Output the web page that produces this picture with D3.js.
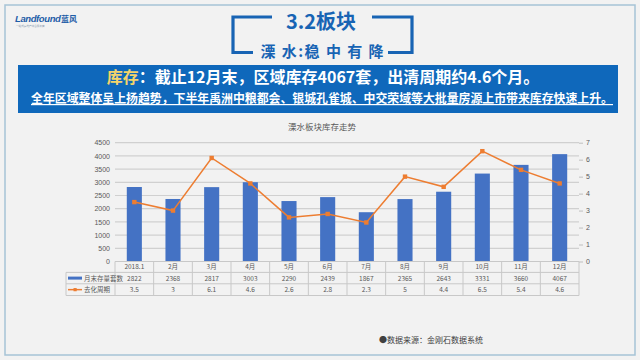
<!DOCTYPE html>
<html>
<head>
<meta charset="utf-8">
<script src="https://cdn.jsdelivr.net/npm/d3@7"></script>
<style>
  html, body { margin: 0; padding: 0; background: #f2f2f2; }
  svg { display: block; font-family: "Noto Sans CJK SC", "Noto Sans", sans-serif; }
</style>
</head>
<body>
<svg id="mySVG" width="640" height="360"></svg>
<script>
// chart data
const categories = ["2018.1", "2月", "3月", "4月", "5月", "6月", "7月", "8月", "9月", "10月", "11月", "12月"];
const stockValues = [2822, 2368, 2817, 3003, 2290, 2439, 1867, 2365, 2643, 3331, 3660, 4067];
const cycleValues = [3.5, 3, 6.1, 4.6, 2.6, 2.8, 2.3, 5, 4.4, 6.5, 5.4, 4.6];
const leftTicks = [0, 500, 1000, 1500, 2000, 2500, 3000, 3500, 4000, 4500];
const rightTicks = [0, 1, 2, 3, 4, 5, 6, 7];
const seriesNames = ["月末存量套数", "去化周期"];

const svg = d3.select("#mySVG");
const blue = "#1864b4";
const barColor = "#4472c4";
const lineColor = "#ed7d31";
const textGray = "#595959";

// page background + frame
svg.append("rect")
  .attr("x", 0).attr("y", 0).attr("width", 640).attr("height", 360)
  .attr("fill", "#f2f2f2");
svg.append("rect")
  .attr("x", 5).attr("y", 5).attr("width", 630).attr("height", 350)
  .attr("fill", "none").attr("stroke", "#a6c3d6").attr("stroke-width", 1.5);

// logo
svg.append("text")
  .attr("x", 15).attr("y", 22)
  .attr("font-family", "Liberation Sans, sans-serif")
  .attr("font-style", "italic").attr("font-weight", "bold")
  .attr("font-size", 9.5).attr("fill", "#1f5ea8")
  .attr("letter-spacing", -0.4)
  .text("Landfound");
svg.append("text")
  .attr("x", 61).attr("y", 22)
  .attr("font-weight", "bold").attr("font-size", 8).attr("fill", "#1f5ea8")
  .text("蓝风");
svg.append("text")
  .attr("x", 16).attr("y", 27)
  .attr("font-size", 2.6).attr("fill", "#8a9bb0")
  .text("一站式房地产综合服务商");

// header brackets
const bracket = svg.append("g")
  .attr("fill", "none").attr("stroke", blue).attr("stroke-width", 3.2);
bracket.append("path").attr("d", "M272,17 H233 V52.5 H253");
bracket.append("path").attr("d", "M372,17 H412 V52.5 H388");

svg.append("text")
  .attr("x", 321).attr("y", 29)
  .attr("text-anchor", "middle")
  .attr("font-weight", "bold").attr("font-size", 20).attr("fill", blue)
  .text("3.2板块");
svg.append("text")
  .attr("x", 322).attr("y", 57)
  .attr("text-anchor", "middle")
  .attr("font-weight", "bold").attr("font-size", 15).attr("fill", blue)
  .attr("textLength", 123).attr("lengthAdjust", "spacing")
  .text("溧 水:稳 中 有 降");

// blue banner
svg.append("rect")
  .attr("x", 18).attr("y", 65).attr("width", 600).attr("height", 48)
  .attr("fill", "#0f68bb");
const line1 = svg.append("text")
  .attr("x", 323).attr("y", 83)
  .attr("text-anchor", "middle")
  .attr("font-weight", "bold").attr("font-size", 16).attr("fill", "#ffffff");
line1.append("tspan").attr("fill", "#f4d46a").text("库存");
line1.append("tspan").text("：截止12月末，区域库存4067套，出清周期约4.6个月。");

svg.append("text")
  .attr("x", 31).attr("y", 103)
  .attr("textLength", 582).attr("lengthAdjust", "spacingAndGlyphs")
  .attr("font-weight", "bold").attr("font-size", 12).attr("fill", "#ffffff")
  .attr("text-decoration", "underline")
  .text("全年区域整体呈上扬趋势，下半年禹洲中粮都会、银城孔雀城、中交荣域等大批量房源上市带来库存快速上升。");

// chart title
svg.append("text")
  .attr("x", 322).attr("y", 130)
  .attr("text-anchor", "middle")
  .attr("font-size", 8.5).attr("fill", textGray)
  .text("溧水板块库存走势");

// scales
const plotLeft = 115, plotRight = 579, plotTop = 142.7, plotBottom = 261.5;
const x = d3.scaleBand().domain(categories).range([plotLeft, plotRight]).padding(0);
const yLeft = d3.scaleLinear().domain([0, 4500]).range([plotBottom, plotTop]);
const yRight = d3.scaleLinear().domain([0, 7]).range([plotBottom, plotTop]);

// gridlines
svg.append("g").selectAll("line")
  .data(leftTicks)
  .enter().append("line")
  .attr("x1", plotLeft).attr("x2", plotRight)
  .attr("y1", d => yLeft(d)).attr("y2", d => yLeft(d))
  .attr("stroke", "#d0d0d0").attr("stroke-width", 1.2);

// left axis
const leftAxis = svg.append("g")
  .attr("transform", `translate(${plotLeft},0)`)
  .call(d3.axisLeft(yLeft).tickValues(leftTicks).tickFormat(d3.format("d")).tickSize(0).tickPadding(5));
leftAxis.select(".domain").remove();
leftAxis.selectAll("text")
  .attr("font-family", "Liberation Sans, sans-serif")
  .attr("font-size", 7).attr("fill", textGray);

// right axis
const rightAxis = svg.append("g")
  .attr("transform", `translate(${plotRight},0)`)
  .call(d3.axisRight(yRight).tickValues(rightTicks).tickFormat(d3.format("d")).tickSize(4).tickPadding(3));
rightAxis.select(".domain").remove();
rightAxis.selectAll("line").attr("stroke", "#bfbfbf");
rightAxis.selectAll("text")
  .attr("font-family", "Liberation Sans, sans-serif")
  .attr("font-size", 7).attr("fill", textGray);

// bars
const barW = x.bandwidth() * 0.39;
svg.append("g").selectAll("rect")
  .data(stockValues)
  .enter().append("rect")
  .attr("x", (d, i) => x(categories[i]) + (x.bandwidth() - barW) / 2)
  .attr("y", d => yLeft(d))
  .attr("width", barW)
  .attr("height", d => yLeft(0) - yLeft(d))
  .attr("fill", barColor);

// line + markers
const line = d3.line()
  .x((d, i) => x(categories[i]) + x.bandwidth() / 2)
  .y(d => yRight(d));
svg.append("path")
  .datum(cycleValues)
  .attr("d", line)
  .attr("fill", "none").attr("stroke", lineColor).attr("stroke-width", 1.5);
svg.append("g").selectAll("rect")
  .data(cycleValues)
  .enter().append("rect")
  .attr("x", (d, i) => x(categories[i]) + x.bandwidth() / 2 - 2.2)
  .attr("y", d => yRight(d) - 2.2)
  .attr("width", 4.4).attr("height", 4.4)
  .attr("fill", lineColor);

// data table
const tableLeft = 66;
const rowY = [plotBottom, 272.4, 283.8, 295.5];
const grid = svg.append("g").attr("stroke", "#c8c8c8").attr("stroke-width", 1);
grid.selectAll("line.h")
  .data(rowY.slice(1))
  .enter().append("line")
  .attr("x1", tableLeft).attr("x2", plotRight)
  .attr("y1", d => d).attr("y2", d => d);
grid.append("line")
  .attr("x1", plotLeft).attr("x2", plotRight)
  .attr("y1", plotBottom).attr("y2", plotBottom);
grid.selectAll("line.v")
  .data(categories.concat(["end"]))
  .enter().append("line")
  .attr("x1", (d, i) => plotLeft + i * x.step())
  .attr("x2", (d, i) => plotLeft + i * x.step())
  .attr("y1", plotBottom).attr("y2", rowY[3]);
grid.append("line")
  .attr("x1", tableLeft).attr("x2", tableLeft)
  .attr("y1", rowY[1]).attr("y2", rowY[3]);

const tableRows = [categories, stockValues, cycleValues];
tableRows.forEach((row, r) => {
  svg.append("g").selectAll("text")
    .data(row)
    .enter().append("text")
    .attr("x", (d, i) => x(categories[i]) + x.bandwidth() / 2)
    .attr("y", (rowY[r] + rowY[r + 1]) / 2 + 2.4)
    .attr("text-anchor", "middle")
    .attr("font-size", 6.5).attr("fill", textGray)
    .text(d => d);
});

// legend keys in the table
const mid1 = (rowY[1] + rowY[2]) / 2;
const mid2 = (rowY[2] + rowY[3]) / 2;
svg.append("rect")
  .attr("x", 68).attr("y", mid1 - 1.5).attr("width", 14).attr("height", 3)
  .attr("fill", barColor);
svg.append("line")
  .attr("x1", 68).attr("x2", 82).attr("y1", mid2).attr("y2", mid2)
  .attr("stroke", lineColor).attr("stroke-width", 1.5);
svg.append("rect")
  .attr("x", 73.5).attr("y", mid2 - 1.6).attr("width", 3.2).attr("height", 3.2)
  .attr("fill", lineColor);
svg.append("text")
  .attr("x", 84).attr("y", mid1 + 2.4)
  .attr("font-size", 6.5).attr("fill", textGray)
  .text(seriesNames[0]);
svg.append("text")
  .attr("x", 84).attr("y", mid2 + 2.4)
  .attr("font-size", 6.5).attr("fill", textGray)
  .text(seriesNames[1]);

// source note
svg.append("text")
  .attr("x", 379).attr("y", 343)
  .attr("font-size", 8).attr("fill", "#404040")
  .text("●数据来源：金刚石数据系统");
</script>
</body>
</html>
